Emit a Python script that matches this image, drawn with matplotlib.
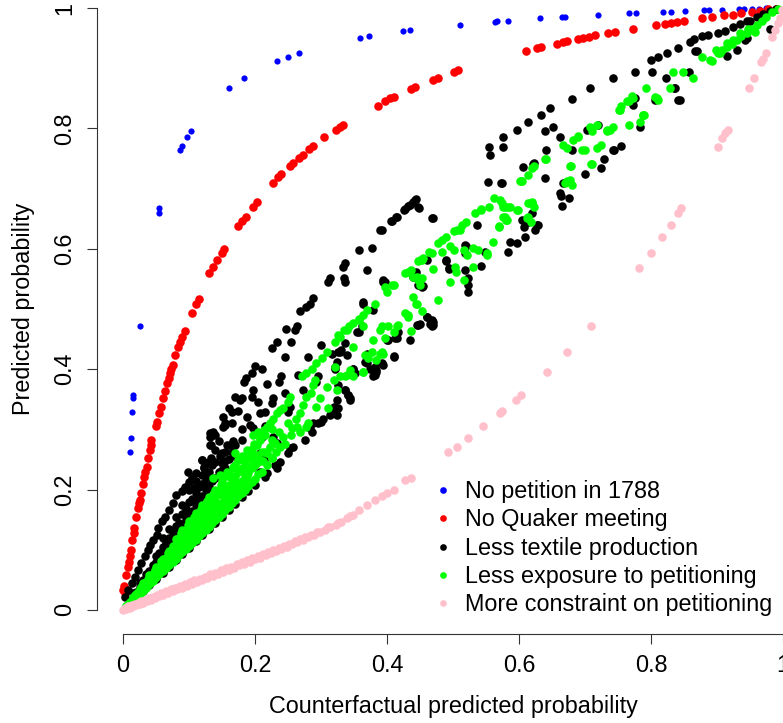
import matplotlib
matplotlib.use("Agg")
import matplotlib.pyplot as plt
from matplotlib.lines import Line2D

plt.rcParams['font.family'] = ['Liberation Sans', 'DejaVu Sans']

# ---------------- data ----------------
series_labels = ["No petition in 1788", "No Quaker meeting", "Less textile production",
                 "Less exposure to petitioning", "More constraint on petitioning"]
series_colors = ["#0000FF", "#FF0000", "#000000", "#00FF00", "#FFC0CB"]
tick_values = [0, 0.2, 0.4, 0.6, 0.8, 1]
tick_labels = ["0", "0.2", "0.4", "0.6", "0.8", "1"]
x_title = "Counterfactual predicted probability"
y_title = "Predicted probability"

blue_pts = [(0.011, 0.262), (0.012, 0.286), (0.014, 0.329), (0.015, 0.352), (0.015, 0.357),
            (0.025, 0.471), (0.054, 0.659), (0.055, 0.667), (0.086, 0.764), (0.090, 0.771),
            (0.097, 0.785), (0.103, 0.795), (0.161, 0.868), (0.183, 0.884), (0.234, 0.912),
            (0.250, 0.919), (0.267, 0.925), (0.359, 0.950), (0.373, 0.953), (0.424, 0.962),
            (0.435, 0.963), (0.510, 0.972), (0.563, 0.977), (0.566, 0.978), (0.583, 0.979),
            (0.632, 0.983), (0.665, 0.985), (0.669, 0.985), (0.719, 0.988), (0.767, 0.991),
            (0.778, 0.991), (0.818, 0.993), (0.830, 0.993), (0.852, 0.995), (0.880, 0.997),
            (0.888, 0.997), (0.908, 0.997), (0.934, 0.998), (0.941, 0.998), (0.953, 0.999),
            (0.963, 0.999), (0.975, 1.000)]

red_pts = [(0.003, 0.028), (0.000, 0.033), (0.002, 0.039), (0.005, 0.058), (0.007, 0.072),
           (0.009, 0.080), (0.011, 0.089), (0.012, 0.100), (0.014, 0.116), (0.016, 0.127),
           (0.017, 0.136), (0.020, 0.155), (0.022, 0.169), (0.024, 0.177), (0.026, 0.183),
           (0.028, 0.194), (0.031, 0.210), (0.032, 0.221), (0.034, 0.230), (0.036, 0.238),
           (0.038, 0.252), (0.041, 0.266), (0.042, 0.274), (0.043, 0.282), (0.050, 0.305),
           (0.052, 0.313), (0.055, 0.327), (0.057, 0.338), (0.060, 0.352), (0.063, 0.363),
           (0.066, 0.377), (0.069, 0.385), (0.071, 0.393), (0.073, 0.401), (0.075, 0.407),
           (0.079, 0.424), (0.084, 0.437), (0.086, 0.446), (0.089, 0.454), (0.094, 0.463),
           (0.104, 0.493), (0.111, 0.509), (0.115, 0.517), (0.131, 0.559), (0.137, 0.570),
           (0.143, 0.581), (0.150, 0.593), (0.153, 0.599), (0.175, 0.638), (0.181, 0.647),
           (0.186, 0.653), (0.197, 0.670), (0.203, 0.678), (0.228, 0.710), (0.235, 0.720),
           (0.240, 0.724), (0.253, 0.738), (0.258, 0.742), (0.267, 0.751), (0.272, 0.756),
           (0.282, 0.766), (0.288, 0.771), (0.305, 0.785), (0.323, 0.798), (0.329, 0.803),
           (0.334, 0.806), (0.386, 0.838), (0.397, 0.845), (0.405, 0.851), (0.411, 0.853),
           (0.437, 0.865), (0.442, 0.869), (0.470, 0.880), (0.478, 0.884), (0.502, 0.894),
           (0.507, 0.897), (0.611, 0.929), (0.627, 0.933), (0.634, 0.935), (0.657, 0.941),
           (0.666, 0.943), (0.673, 0.945), (0.689, 0.948), (0.697, 0.950), (0.706, 0.952),
           (0.715, 0.955), (0.735, 0.958), (0.746, 0.960), (0.773, 0.965), (0.808, 0.972),
           (0.821, 0.974), (0.831, 0.975), (0.840, 0.977), (0.850, 0.978), (0.877, 0.983),
           (0.892, 0.986), (0.910, 0.988), (0.925, 0.989), (0.937, 0.991), (0.953, 0.994),
           (0.965, 0.995), (0.978, 0.998), (0.990, 0.999)]

black_pts = [
    # upper band near the origin
    (0.003, 0.022), (0.008, 0.033), (0.013, 0.044), (0.018, 0.055), (0.023, 0.066),
    (0.028, 0.078), (0.033, 0.089), (0.038, 0.100), (0.041, 0.108), (0.046, 0.116),
    (0.051, 0.125), (0.053, 0.136), (0.059, 0.147), (0.064, 0.155), (0.069, 0.166),
    (0.076, 0.177), (0.081, 0.191), (0.089, 0.197), (0.094, 0.205), (0.099, 0.230),
    (0.104, 0.221), (0.107, 0.202), (0.112, 0.188), (0.119, 0.249), (0.122, 0.235),
    (0.124, 0.213), (0.129, 0.227), (0.132, 0.294), (0.134, 0.274), (0.134, 0.252),
    (0.139, 0.291), (0.150, 0.244), (0.155, 0.235), (0.152, 0.304), (0.155, 0.310),
    (0.162, 0.274), (0.155, 0.263), (0.170, 0.255), (0.180, 0.282), (0.210, 0.288),
    (0.215, 0.305),
    (0.020, 0.030), (0.030, 0.050), (0.040, 0.065), (0.050, 0.080), (0.050, 0.090),
    (0.060, 0.095), (0.060, 0.105), (0.060, 0.120), (0.070, 0.108), (0.070, 0.120),
    (0.070, 0.135), (0.080, 0.125), (0.080, 0.140), (0.080, 0.155), (0.090, 0.140),
    (0.090, 0.160), (0.090, 0.175), (0.100, 0.160), (0.100, 0.180), (0.100, 0.200),
    (0.110, 0.175), (0.110, 0.195), (0.110, 0.215), (0.120, 0.190), (0.120, 0.210),
    (0.130, 0.205), (0.130, 0.230), (0.140, 0.220), (0.140, 0.245), (0.150, 0.232),
    (0.150, 0.260), (0.160, 0.250), (0.015, 0.028), (0.025, 0.045), (0.035, 0.060),
    (0.045, 0.075), (0.055, 0.095), (0.065, 0.112), (0.075, 0.128), (0.085, 0.145),
    (0.095, 0.168), (0.105, 0.185), (0.115, 0.205), (0.125, 0.222), (0.135, 0.240),
    (0.025, 0.038), (0.035, 0.052), (0.045, 0.068), (0.055, 0.083), (0.065, 0.100),
    (0.075, 0.115), (0.085, 0.130), (0.095, 0.150), (0.105, 0.165), (0.115, 0.185),
    (0.125, 0.200), (0.135, 0.215), (0.145, 0.230), (0.155, 0.248), (0.165, 0.262),
    (0.100, 0.212), (0.110, 0.228), (0.120, 0.225), (0.130, 0.245), (0.140, 0.265),
    (0.145, 0.280),
    # lower edge along the diagonal
    (0.010, 0.010), (0.020, 0.021), (0.030, 0.031), (0.040, 0.041), (0.050, 0.052),
    (0.060, 0.062), (0.070, 0.072), (0.080, 0.083), (0.090, 0.093), (0.100, 0.103),
    (0.110, 0.114), (0.120, 0.124), (0.130, 0.134), (0.140, 0.145), (0.150, 0.155),
    (0.160, 0.166), (0.170, 0.176), (0.180, 0.187), (0.190, 0.198), (0.200, 0.208),
    (0.215, 0.221), (0.230, 0.240), (0.250, 0.260), (0.276, 0.283), (0.286, 0.295),
    (0.300, 0.312),
    # middle part
    (0.288, 0.518), (0.283, 0.509), (0.278, 0.504), (0.268, 0.496), (0.263, 0.471),
    (0.261, 0.465), (0.247, 0.466), (0.233, 0.446), (0.225, 0.435), (0.210, 0.401),
    (0.200, 0.405), (0.195, 0.393), (0.240, 0.388), (0.237, 0.379), (0.187, 0.385),
    (0.183, 0.379), (0.197, 0.365), (0.195, 0.354), (0.170, 0.354), (0.177, 0.349),
    (0.181, 0.352), (0.160, 0.335), (0.165, 0.329), (0.151, 0.321), (0.155, 0.307),
    (0.137, 0.296), (0.132, 0.288), (0.132, 0.274), (0.157, 0.274), (0.167, 0.280),
    (0.170, 0.274), (0.119, 0.249), (0.122, 0.238), (0.152, 0.244), (0.147, 0.255),
    (0.192, 0.307), (0.197, 0.302), (0.208, 0.327), (0.215, 0.329), (0.228, 0.352),
    (0.225, 0.343), (0.250, 0.329), (0.253, 0.338), (0.273, 0.365), (0.293, 0.379),
    (0.296, 0.388), (0.321, 0.404), (0.324, 0.412), (0.326, 0.429), (0.339, 0.424),
    (0.349, 0.401), (0.352, 0.393), (0.326, 0.335), (0.319, 0.329), (0.324, 0.324),
    (0.341, 0.357), (0.344, 0.352), (0.336, 0.365), (0.288, 0.310), (0.283, 0.302),
    (0.296, 0.310), (0.303, 0.318), (0.228, 0.288), (0.233, 0.277), (0.253, 0.269),
    (0.258, 0.271), (0.208, 0.260), (0.213, 0.249), (0.197, 0.238), (0.208, 0.230),
    (0.218, 0.227), (0.238, 0.246), (0.233, 0.235), (0.364, 0.509), (0.362, 0.471),
    (0.354, 0.462), (0.397, 0.545), (0.336, 0.545), (0.311, 0.545), (0.369, 0.426),
    (0.367, 0.412), (0.379, 0.388), (0.382, 0.404), (0.392, 0.410),
    (0.314, 0.551), (0.335, 0.551), (0.333, 0.570), (0.336, 0.576), (0.358, 0.598),
    (0.378, 0.601), (0.370, 0.565), (0.390, 0.631), (0.406, 0.646), (0.415, 0.653),
    (0.426, 0.664), (0.432, 0.671), (0.439, 0.677), (0.444, 0.682), (0.448, 0.668),
    (0.468, 0.652), (0.394, 0.548), (0.444, 0.562), (0.454, 0.538), (0.460, 0.581),
    (0.489, 0.579), (0.494, 0.568), (0.518, 0.606),
    (0.363, 0.511), (0.379, 0.498), (0.357, 0.462), (0.336, 0.444), (0.329, 0.429),
    (0.316, 0.426), (0.402, 0.449), (0.415, 0.451), (0.445, 0.473), (0.450, 0.475),
    (0.468, 0.471), (0.470, 0.479), (0.410, 0.421), (0.394, 0.407), (0.384, 0.399),
    (0.369, 0.410), (0.382, 0.390), (0.349, 0.401), (0.321, 0.401),
    (0.331, 0.432), (0.374, 0.401), (0.384, 0.396), (0.417, 0.462), (0.460, 0.487),
    (0.465, 0.475), (0.326, 0.374), (0.336, 0.365), (0.341, 0.357), (0.344, 0.349),
    (0.324, 0.349), (0.319, 0.338), (0.321, 0.329), (0.316, 0.332), (0.314, 0.324),
    (0.180, 0.300), (0.188, 0.320), (0.205, 0.345), (0.218, 0.375), (0.245, 0.420),
    (0.255, 0.445), (0.175, 0.330), (0.165, 0.310), (0.245, 0.360), (0.265, 0.390),
    (0.280, 0.420), (0.300, 0.440),
    # upper region
    (0.392, 0.631), (0.407, 0.647), (0.414, 0.653), (0.427, 0.666), (0.435, 0.673),
    (0.442, 0.681), (0.447, 0.669), (0.469, 0.652), (0.536, 0.640), (0.520, 0.604),
    (0.518, 0.593), (0.490, 0.581), (0.494, 0.566), (0.518, 0.565), (0.522, 0.551),
    (0.522, 0.540), (0.523, 0.529), (0.543, 0.571), (0.549, 0.595), (0.584, 0.595),
    (0.586, 0.612), (0.597, 0.609), (0.609, 0.619), (0.607, 0.637), (0.614, 0.645),
    (0.624, 0.632), (0.629, 0.640), (0.619, 0.659), (0.394, 0.545), (0.440, 0.554),
    (0.447, 0.540), (0.453, 0.537), (0.460, 0.487), (0.468, 0.482), (0.470, 0.473),
    (0.447, 0.473), (0.435, 0.449), (0.412, 0.451), (0.400, 0.449), (0.410, 0.422),
    (0.555, 0.770), (0.576, 0.785), (0.597, 0.797), (0.614, 0.810), (0.633, 0.822),
    (0.647, 0.834), (0.680, 0.849), (0.707, 0.868), (0.742, 0.883), (0.776, 0.894),
    (0.576, 0.770), (0.556, 0.756), (0.553, 0.711), (0.572, 0.710), (0.606, 0.736),
    (0.622, 0.742), (0.639, 0.795), (0.652, 0.802), (0.662, 0.786), (0.681, 0.764),
    (0.639, 0.717), (0.667, 0.710), (0.663, 0.687), (0.675, 0.684), (0.665, 0.671),
    (0.700, 0.724), (0.720, 0.806), (0.729, 0.750), (0.725, 0.734), (0.743, 0.764),
    (0.754, 0.771), (0.783, 0.803), (0.775, 0.850), (0.773, 0.839), (0.806, 0.847),
    (0.836, 0.867), (0.841, 0.847), (0.857, 0.894), (0.867, 0.929), (0.915, 0.920),
    (0.930, 0.930), (0.945, 0.950), (0.980, 0.966), (0.802, 0.894), (0.822, 0.883),
    (0.835, 0.868), (0.844, 0.848), (0.703, 0.797), (0.641, 0.764), (0.744, 0.765),
    (0.621, 0.741), (0.662, 0.692), (0.574, 0.709), (0.628, 0.640), (0.604, 0.648),
    # top right band
    (0.800, 0.913), (0.811, 0.919), (0.825, 0.926), (0.841, 0.933), (0.859, 0.943),
    (0.865, 0.948), (0.877, 0.953), (0.887, 0.955), (0.902, 0.958), (0.912, 0.962),
    (0.925, 0.969), (0.935, 0.973), (0.945, 0.978), (0.950, 0.979), (0.960, 0.986),
    (0.970, 0.990), (0.980, 0.995), (0.990, 0.999), (0.869, 0.928), (0.942, 0.947),
]

green_pts = [
    # dense wedge near the origin
    (0.003, 0.003), (0.005, 0.006), (0.005, 0.007), (0.008, 0.010), (0.010, 0.011),
    (0.010, 0.014), (0.013, 0.016), (0.015, 0.016), (0.015, 0.021), (0.018, 0.024),
    (0.020, 0.022), (0.020, 0.027), (0.023, 0.030), (0.025, 0.027), (0.025, 0.034),
    (0.028, 0.038), (0.030, 0.032), (0.030, 0.038), (0.030, 0.044), (0.033, 0.042),
    (0.035, 0.037), (0.035, 0.046), (0.038, 0.052), (0.040, 0.043), (0.040, 0.050),
    (0.040, 0.058), (0.043, 0.055), (0.045, 0.048), (0.045, 0.060), (0.048, 0.067),
    (0.050, 0.054), (0.050, 0.062), (0.050, 0.071), (0.053, 0.066), (0.055, 0.059),
    (0.055, 0.072), (0.058, 0.081), (0.060, 0.064), (0.060, 0.074), (0.060, 0.085),
    (0.063, 0.079), (0.065, 0.070), (0.065, 0.086), (0.068, 0.094), (0.070, 0.075),
    (0.070, 0.086), (0.070, 0.098), (0.073, 0.090), (0.075, 0.080), (0.075, 0.094),
    (0.075, 0.106), (0.078, 0.102), (0.080, 0.085), (0.080, 0.097), (0.080, 0.110),
    (0.080, 0.118), (0.083, 0.113), (0.085, 0.091), (0.085, 0.104), (0.085, 0.120),
    (0.088, 0.128), (0.090, 0.096), (0.090, 0.108), (0.090, 0.122), (0.090, 0.133),
    (0.093, 0.127), (0.095, 0.101), (0.095, 0.115), (0.095, 0.130), (0.098, 0.141),
    (0.100, 0.106), (0.100, 0.120), (0.100, 0.135), (0.100, 0.148), (0.103, 0.128),
    (0.105, 0.112), (0.105, 0.127), (0.105, 0.142), (0.108, 0.155), (0.110, 0.117),
    (0.110, 0.131), (0.110, 0.146), (0.110, 0.161), (0.113, 0.140), (0.115, 0.123),
    (0.115, 0.138), (0.115, 0.155), (0.118, 0.168), (0.120, 0.128), (0.120, 0.142),
    (0.120, 0.157), (0.120, 0.174), (0.123, 0.150), (0.125, 0.133), (0.125, 0.149),
    (0.125, 0.166), (0.128, 0.181), (0.130, 0.138), (0.130, 0.154), (0.130, 0.170),
    (0.130, 0.188), (0.133, 0.162), (0.135, 0.144), (0.135, 0.162), (0.135, 0.180),
    (0.138, 0.195), (0.140, 0.149), (0.140, 0.166), (0.140, 0.183), (0.140, 0.200),
    (0.143, 0.175), (0.145, 0.155), (0.145, 0.174), (0.145, 0.193), (0.148, 0.208),
    (0.150, 0.160), (0.150, 0.177), (0.150, 0.196), (0.150, 0.214), (0.153, 0.186),
    (0.155, 0.166), (0.155, 0.186), (0.155, 0.205), (0.158, 0.222), (0.160, 0.171),
    (0.160, 0.190), (0.160, 0.208), (0.160, 0.226), (0.163, 0.198), (0.165, 0.178),
    (0.165, 0.199), (0.165, 0.218), (0.168, 0.236), (0.170, 0.183), (0.170, 0.201),
    (0.170, 0.222), (0.170, 0.240), (0.173, 0.210), (0.175, 0.189), (0.175, 0.211),
    (0.175, 0.230), (0.178, 0.250), (0.180, 0.195), (0.180, 0.214), (0.180, 0.236),
    (0.180, 0.255), (0.185, 0.200), (0.185, 0.222), (0.185, 0.245), (0.188, 0.265),
    (0.190, 0.206), (0.190, 0.228), (0.193, 0.252), (0.195, 0.212), (0.195, 0.235),
    (0.198, 0.275), (0.200, 0.218), (0.200, 0.240), (0.203, 0.258), (0.205, 0.226),
    (0.208, 0.282), (0.210, 0.230), (0.212, 0.248), (0.215, 0.262), (0.218, 0.240),
    (0.222, 0.270), (0.226, 0.252), (0.232, 0.262), (0.236, 0.296), (0.245, 0.275),
    (0.255, 0.290), (0.262, 0.318), (0.272, 0.340), (0.285, 0.360),
    (0.013, 0.014), (0.018, 0.019), (0.023, 0.025), (0.028, 0.031), (0.033, 0.036),
    (0.038, 0.041), (0.043, 0.047), (0.048, 0.053), (0.053, 0.060), (0.058, 0.066),
    (0.063, 0.072), (0.068, 0.078), (0.073, 0.083), (0.078, 0.089), (0.083, 0.095),
    (0.088, 0.101), (0.093, 0.107), (0.098, 0.113), (0.103, 0.119), (0.108, 0.125),
    (0.113, 0.131), (0.118, 0.137), (0.123, 0.143), (0.128, 0.149), (0.133, 0.155),
    (0.138, 0.161), (0.143, 0.167), (0.148, 0.173), (0.153, 0.179), (0.158, 0.185),
    (0.163, 0.191), (0.168, 0.197), (0.173, 0.203), (0.178, 0.209), (0.183, 0.215),
    (0.188, 0.221), (0.048, 0.064), (0.063, 0.083), (0.078, 0.100), (0.093, 0.118),
    (0.108, 0.137), (0.123, 0.160), (0.138, 0.176), (0.153, 0.198), (0.168, 0.215),
    (0.183, 0.233), (0.198, 0.250), (0.195, 0.268), (0.205, 0.295), (0.215, 0.290),
    (0.225, 0.300), (0.205, 0.245),
    # scattered band
    (0.357, 0.482), (0.349, 0.476), (0.339, 0.465), (0.329, 0.454), (0.321, 0.446),
    (0.309, 0.429), (0.301, 0.418), (0.293, 0.410), (0.286, 0.401), (0.278, 0.393),
    (0.271, 0.388), (0.377, 0.429), (0.392, 0.429), (0.384, 0.415), (0.364, 0.396),
    (0.349, 0.388), (0.339, 0.390), (0.329, 0.388), (0.319, 0.382), (0.324, 0.365),
    (0.309, 0.371), (0.288, 0.374), (0.291, 0.382), (0.298, 0.352), (0.293, 0.338),
    (0.311, 0.335), (0.278, 0.354), (0.268, 0.327), (0.253, 0.354), (0.250, 0.346),
    (0.243, 0.335), (0.238, 0.332), (0.233, 0.327), (0.228, 0.318), (0.223, 0.310),
    (0.218, 0.304), (0.213, 0.299), (0.250, 0.310), (0.256, 0.302), (0.263, 0.304),
    (0.268, 0.296), (0.278, 0.304), (0.281, 0.310), (0.243, 0.288), (0.238, 0.271),
    (0.230, 0.277), (0.225, 0.282), (0.208, 0.285), (0.197, 0.291), (0.203, 0.274),
    (0.192, 0.260), (0.187, 0.255), (0.182, 0.249), (0.170, 0.260), (0.175, 0.249),
    (0.167, 0.238), (0.157, 0.230), (0.147, 0.224), (0.137, 0.219), (0.210, 0.263),
    (0.218, 0.260), (0.225, 0.252), (0.208, 0.249), (0.197, 0.241), (0.190, 0.238),
    (0.382, 0.509), (0.369, 0.498), (0.364, 0.490), (0.357, 0.484), (0.343, 0.471),
    (0.335, 0.465), (0.326, 0.457), (0.364, 0.471), (0.392, 0.471), (0.402, 0.471),
    (0.410, 0.462), (0.417, 0.473), (0.397, 0.451), (0.379, 0.449), (0.349, 0.437),
    (0.367, 0.424), (0.371, 0.418), (0.389, 0.426), (0.394, 0.426), (0.321, 0.404),
    (0.336, 0.388), (0.344, 0.399), (0.364, 0.396),
    (0.389, 0.465), (0.415, 0.471), (0.397, 0.537), (0.410, 0.540), (0.407, 0.540),
    (0.400, 0.529), (0.427, 0.493), (0.432, 0.490), (0.440, 0.520), (0.445, 0.509),
    (0.453, 0.496), (0.478, 0.515), (0.436, 0.463), (0.427, 0.559), (0.437, 0.565),
    (0.445, 0.554), (0.453, 0.551), (0.450, 0.581), (0.455, 0.584), (0.463, 0.595),
    (0.468, 0.593), (0.478, 0.609), (0.483, 0.614), (0.490, 0.620), (0.496, 0.604),
    (0.502, 0.598), (0.511, 0.631), (0.520, 0.645), (0.531, 0.570), (0.551, 0.593),
    (0.533, 0.659), (0.543, 0.665), (0.554, 0.670), (0.562, 0.684), (0.569, 0.637),
    (0.580, 0.648), (0.574, 0.676), (0.579, 0.670), (0.584, 0.670), (0.597, 0.664),
    (0.561, 0.612), (0.602, 0.712), (0.614, 0.722), (0.639, 0.749), (0.613, 0.676),
    (0.620, 0.677), (0.670, 0.709), (0.677, 0.714), (0.680, 0.706), (0.678, 0.738),
    (0.709, 0.741), (0.667, 0.772), (0.682, 0.781), (0.690, 0.787), (0.695, 0.764),
    (0.700, 0.764), (0.718, 0.768), (0.724, 0.772), (0.708, 0.803), (0.718, 0.806),
    (0.733, 0.797), (0.743, 0.802), (0.753, 0.831), (0.766, 0.845), (0.773, 0.850),
    (0.788, 0.822), (0.783, 0.810), (0.767, 0.806), (0.793, 0.867), (0.809, 0.850),
    (0.834, 0.894), (0.849, 0.894), (0.864, 0.883), (0.877, 0.919), (0.892, 0.912),
    (0.905, 0.926), (0.915, 0.942), (0.925, 0.947), (0.935, 0.958), (0.947, 0.966),
    (0.958, 0.961), (0.604, 0.712), (0.617, 0.676), (0.612, 0.651), (0.586, 0.670),
    (0.543, 0.666), (0.576, 0.653), (0.581, 0.648), (0.569, 0.638), (0.513, 0.640),
    (0.506, 0.632), (0.502, 0.630), (0.483, 0.595), (0.453, 0.581), (0.447, 0.579),
    (0.516, 0.598), (0.521, 0.590), (0.531, 0.601), (0.538, 0.598), (0.551, 0.590),
    (0.503, 0.570), (0.505, 0.562), (0.496, 0.545), (0.516, 0.549), (0.469, 0.566),
    (0.432, 0.562), (0.439, 0.553), (0.447, 0.548), (0.450, 0.540), (0.444, 0.509),
    (0.432, 0.487), (0.751, 0.831), (0.755, 0.837), (0.771, 0.854), (0.763, 0.845),
    (0.789, 0.822), (0.738, 0.797), (0.733, 0.796), (0.710, 0.796), (0.690, 0.785),
    (0.672, 0.767), (0.710, 0.741), (0.679, 0.738), (0.672, 0.712), (0.641, 0.750),
    (0.619, 0.734), (0.622, 0.737), (0.603, 0.712), (0.571, 0.681), (0.576, 0.670),
    (0.599, 0.664), (0.619, 0.676), (0.623, 0.670), (0.579, 0.653), (0.582, 0.648),
    (0.614, 0.653), (0.618, 0.645), (0.806, 0.853), (0.811, 0.847), (0.788, 0.822),
    (0.829, 0.867), (0.899, 0.930), (0.889, 0.914),
    # top right band
    (0.902, 0.926), (0.907, 0.930), (0.915, 0.936), (0.922, 0.941), (0.930, 0.947),
    (0.937, 0.953), (0.945, 0.958), (0.953, 0.965), (0.960, 0.972), (0.968, 0.979),
    (0.975, 0.986), (0.983, 0.994), (0.992, 0.999),
]

pink_pts = [(0.000, 0.000), (0.005, 0.002), (0.010, 0.004), (0.015, 0.006), (0.020, 0.008),
            (0.025, 0.010), (0.030, 0.012), (0.036, 0.015), (0.042, 0.017), (0.048, 0.020),
            (0.055, 0.023), (0.061, 0.025), (0.068, 0.028), (0.075, 0.031), (0.082, 0.034),
            (0.090, 0.037), (0.097, 0.040), (0.104, 0.043), (0.112, 0.046), (0.120, 0.050),
            (0.128, 0.053), (0.136, 0.056), (0.144, 0.060), (0.152, 0.063), (0.160, 0.067),
            (0.168, 0.070), (0.176, 0.074), (0.184, 0.077), (0.192, 0.080), (0.200, 0.084),
            (0.208, 0.087), (0.216, 0.091), (0.224, 0.094), (0.232, 0.098), (0.240, 0.102),
            (0.248, 0.105), (0.256, 0.109), (0.264, 0.113), (0.272, 0.117), (0.281, 0.121),
            (0.290, 0.125), (0.299, 0.130), (0.306, 0.133), (0.314, 0.137), (0.322, 0.141),
            (0.330, 0.146), (0.339, 0.152), (0.348, 0.158), (0.357, 0.166), (0.370, 0.175),
            (0.382, 0.183), (0.392, 0.190), (0.400, 0.195), (0.410, 0.199), (0.427, 0.216),
            (0.437, 0.220), (0.493, 0.263), (0.506, 0.271), (0.523, 0.285), (0.546, 0.305),
            (0.571, 0.327), (0.575, 0.330), (0.595, 0.349), (0.603, 0.357), (0.642, 0.395),
            (0.673, 0.429), (0.709, 0.471), (0.782, 0.568), (0.800, 0.593), (0.817, 0.619),
            (0.830, 0.640), (0.841, 0.659), (0.846, 0.667), (0.901, 0.770), (0.907, 0.784),
            (0.912, 0.792), (0.916, 0.798), (0.948, 0.868), (0.956, 0.884), (0.967, 0.911),
            (0.970, 0.916), (0.974, 0.925), (0.983, 0.952), (0.988, 0.963), (0.993, 0.975),
            (0.995, 0.983), (0.999, 0.997),
            # second, slightly higher row in the dense part
            (0.003, 0.003), (0.008, 0.006), (0.013, 0.008), (0.018, 0.010), (0.023, 0.012),
            (0.028, 0.015), (0.033, 0.017), (0.039, 0.020), (0.045, 0.022), (0.051, 0.025),
            (0.058, 0.028), (0.065, 0.031), (0.072, 0.034), (0.079, 0.037), (0.086, 0.040),
            (0.094, 0.043), (0.101, 0.046), (0.108, 0.049), (0.116, 0.052), (0.124, 0.055),
            (0.132, 0.059), (0.140, 0.062), (0.148, 0.066), (0.156, 0.069), (0.164, 0.072),
            (0.172, 0.076), (0.180, 0.079), (0.188, 0.083), (0.196, 0.086), (0.204, 0.089),
            (0.212, 0.093), (0.220, 0.096), (0.228, 0.100), (0.236, 0.103), (0.244, 0.107),
            (0.252, 0.110), (0.260, 0.114), (0.268, 0.118), (0.276, 0.121), (0.285, 0.125),
            (0.294, 0.129), (0.310, 0.137), (0.326, 0.145), (0.344, 0.156)]

all_series = [blue_pts, red_pts, black_pts, green_pts, pink_pts]
marker_area = [20, 38, 38, 38, 38]

# ---------------- figure ----------------
W, H = 783, 723
fig = plt.figure(figsize=(W / 100, H / 100), dpi=100)
# plot region (R style, 4% padding beyond 0..1)
ax = fig.add_axes([96.6 / W, (H - 634) / H, 712.8 / W, 650 / H])
ax.set_xlim(-0.04, 1.04)
ax.set_ylim(-0.04, 1.04)

for pts, col, s in zip(all_series, series_colors, marker_area):
    ax.scatter([p[0] for p in pts], [p[1] for p in pts], s=s, c=col,
               linewidths=0, zorder=3)

for side in ("top", "right"):
    ax.spines[side].set_visible(False)
for side in ("left", "bottom"):
    ax.spines[side].set_bounds(0, 1)
    ax.spines[side].set_linewidth(0.8)
    ax.spines[side].set_color("#333333")

fs = 16.8
ax.set_xticks(tick_values)
ax.set_xticklabels(tick_labels, fontsize=fs)
ax.set_yticks(tick_values)
ax.set_yticklabels(tick_labels, fontsize=fs, rotation=90, va="center")
ax.tick_params(axis="both", direction="out", length=7.5, width=0.8, color="#333333")
ax.tick_params(axis="x", pad=7)
ax.tick_params(axis="y", pad=7)

ax.set_xlabel(x_title, fontsize=fs)
ax.xaxis.set_label_coords(0.5, (634 - 707) / 650)
ax.xaxis.label.set_va("center")
ax.set_ylabel(y_title, fontsize=fs)
ax.yaxis.set_label_coords((24 - 96.6) / 712.8, 0.5)
ax.yaxis.label.set_va("center")

handles = [Line2D([], [], linestyle="none", marker="o", markersize=4.8,
                  markerfacecolor=c, markeredgewidth=0) for c in series_colors]
leg = ax.legend(handles, series_labels, loc="upper left",
                bbox_to_anchor=(436 / W, 1 - 480 / H), bbox_transform=fig.transFigure,
                frameon=False, fontsize=fs, handlelength=0.6, handletextpad=0.64,
                labelspacing=0.23, borderpad=0, borderaxespad=0)

fig.savefig("out.png", dpi=100)
